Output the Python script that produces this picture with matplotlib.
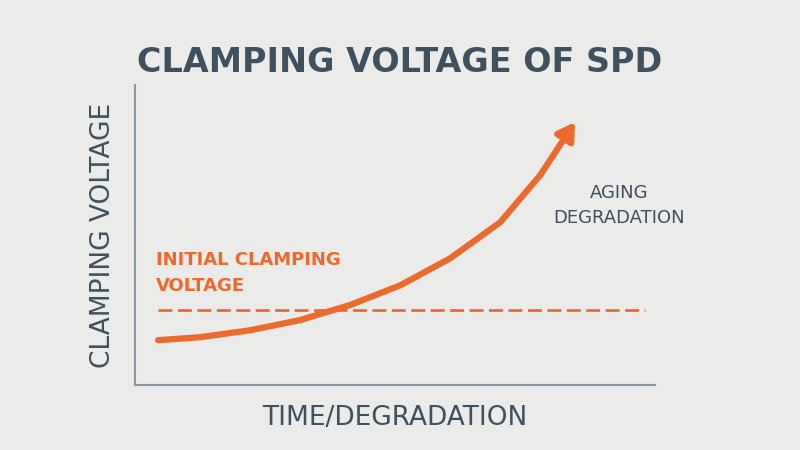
import matplotlib.pyplot as plt

# values (axes run 0-100 in both directions)
time_pts = [4.4, 12.5, 22.1, 31.7, 41.3, 51.0, 60.6, 70.2, 77.9, 84.6]
clamp_volt = [15.0, 16.0, 18.3, 21.7, 26.7, 33.3, 42.3, 54.3, 70.0, 87.7]
initial_level = 25.0
level_span = [4.4, 98.0]

orange = '#ee6a2c'
slate = '#3f515e'
bg = '#ebebea'

fig = plt.figure(figsize=(8, 4.5), dpi=100, facecolor=bg)
ax = fig.add_axes([0.169, 0.144, 0.65, 0.667], facecolor=bg)

ax.plot(time_pts[:-1], clamp_volt[:-1], color=orange, lw=4.5,
        solid_capstyle='round', solid_joinstyle='round')
ax.annotate('', xy=(time_pts[-1], clamp_volt[-1]), xytext=(time_pts[-2], clamp_volt[-2]),
            arrowprops=dict(arrowstyle='-|>,head_length=1.0,head_width=0.6',
                            color=orange, lw=4.5, shrinkA=0, shrinkB=0))
ax.plot(level_span, [initial_level] * 2, color=orange, lw=2, ls=(0, (5, 2)))

ax.text(4, 30, 'INITIAL CLAMPING\nVOLTAGE', color=orange, fontsize=13,
        fontweight='bold', va='bottom', linespacing=1.6)
ax.text(93, 60, 'AGING\nDEGRADATION', color=slate, fontsize=13,
        ha='center', va='center', linespacing=1.5)

ax.set_xlim(0, 100)
ax.set_ylim(0, 100)
ax.set_xticks([])
ax.set_yticks([])
for s in ['top', 'right']:
    ax.spines[s].set_visible(False)
for s in ['left', 'bottom']:
    ax.spines[s].set_color('#8a96a0')
    ax.spines[s].set_linewidth(1.5)

ax.set_xlabel('TIME/DEGRADATION', color=slate, fontsize=19, labelpad=14)
ax.set_ylabel('CLAMPING VOLTAGE', color=slate, fontsize=19, labelpad=14)
fig.text(0.5, 0.86, 'CLAMPING VOLTAGE OF SPD', color=slate, fontsize=24,
         fontweight='bold', ha='center', va='center')

fig.savefig('out.png', dpi=100, facecolor=bg)
